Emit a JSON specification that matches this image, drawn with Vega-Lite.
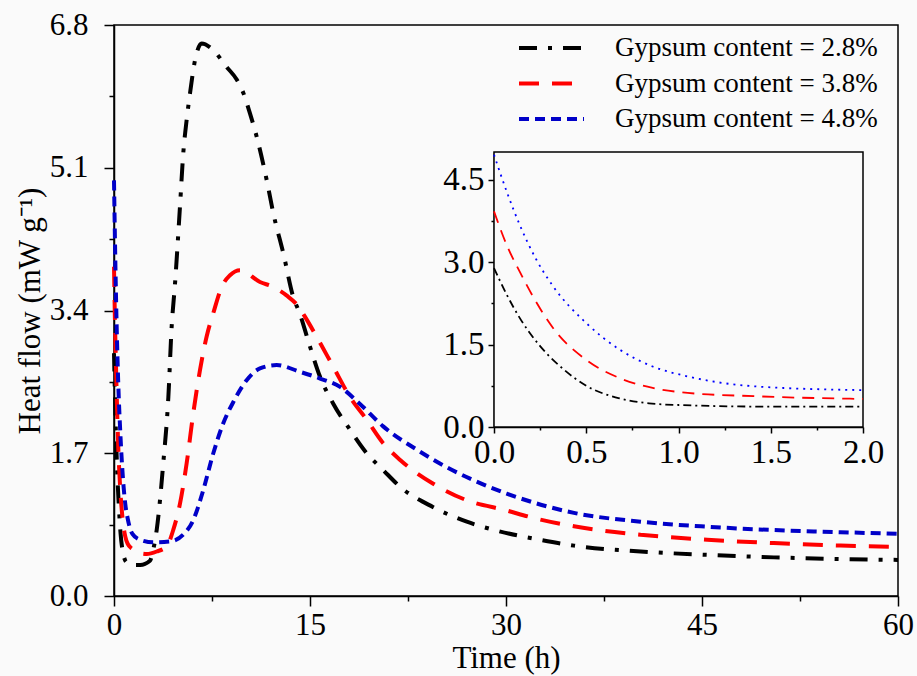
{
  "$schema": "https://vega.github.io/schema/vega-lite/v6.json",
  "width": 784,
  "height": 571,
  "autosize": {"type": "none"},
  "padding": {"left": 114, "top": 25, "right": 19, "bottom": 80},
  "background": "#fafafa",
  "view": {"stroke": "black", "strokeWidth": 1.5, "fill": "#fafafa"},
  "config": {
    "font": "Liberation Serif",
    "axis": {
      "grid": false,
      "domainColor": "black",
      "domainWidth": 1.5,
      "tickColor": "black",
      "tickWidth": 1.5,
      "labelColor": "black",
      "labelFont": "Liberation Serif",
      "titleFont": "Liberation Serif",
      "titleColor": "black",
      "titleFontWeight": "normal",
      "labelFlush": false,
      "labelOverlap": false
    },
    "legend": {
      "orient": "none",
      "legendX": 424,
      "legendY": 9.5,
      "padding": 0,
      "symbolType": "M-5,0H5",
      "symbolSize": 169,
      "symbolStrokeWidth": 4,
      "labelFont": "Liberation Serif",
      "labelFontSize": 27,
      "labelColor": "black",
      "labelOffset": 50,
      "rowPadding": 7.5,
      "labelLimit": 400
    }
  },
  "datasets": {
    "heat": [
      {"series": "Gypsum content = 2.8%", "t": 0, "v": 2.89},
      {"series": "Gypsum content = 2.8%", "t": 0.07, "v": 2.4},
      {"series": "Gypsum content = 2.8%", "t": 0.14, "v": 1.98},
      {"series": "Gypsum content = 2.8%", "t": 0.25, "v": 1.47},
      {"series": "Gypsum content = 2.8%", "t": 0.38, "v": 1.04},
      {"series": "Gypsum content = 2.8%", "t": 0.5, "v": 0.75},
      {"series": "Gypsum content = 2.8%", "t": 0.68, "v": 0.52},
      {"series": "Gypsum content = 2.8%", "t": 0.84, "v": 0.43},
      {"series": "Gypsum content = 2.8%", "t": 1.0, "v": 0.4},
      {"series": "Gypsum content = 2.8%", "t": 1.5, "v": 0.37},
      {"series": "Gypsum content = 2.8%", "t": 2.0, "v": 0.37},
      {"series": "Gypsum content = 2.8%", "t": 2.75, "v": 0.42},
      {"series": "Gypsum content = 2.8%", "t": 3.0, "v": 0.55},
      {"series": "Gypsum content = 2.8%", "t": 3.27, "v": 0.79},
      {"series": "Gypsum content = 2.8%", "t": 3.77, "v": 1.58},
      {"series": "Gypsum content = 2.8%", "t": 4.16, "v": 2.37},
      {"series": "Gypsum content = 2.8%", "t": 4.41, "v": 3.2},
      {"series": "Gypsum content = 2.8%", "t": 4.67, "v": 3.72},
      {"series": "Gypsum content = 2.8%", "t": 5.05, "v": 4.64},
      {"series": "Gypsum content = 2.8%", "t": 5.3, "v": 5.27},
      {"series": "Gypsum content = 2.8%", "t": 5.56, "v": 5.67},
      {"series": "Gypsum content = 2.8%", "t": 5.82, "v": 5.99},
      {"series": "Gypsum content = 2.8%", "t": 6.2, "v": 6.38},
      {"series": "Gypsum content = 2.8%", "t": 6.71, "v": 6.58},
      {"series": "Gypsum content = 2.8%", "t": 7.47, "v": 6.52},
      {"series": "Gypsum content = 2.8%", "t": 8.62, "v": 6.3},
      {"series": "Gypsum content = 2.8%", "t": 9.39, "v": 6.15},
      {"series": "Gypsum content = 2.8%", "t": 9.9, "v": 5.99},
      {"series": "Gypsum content = 2.8%", "t": 10.4, "v": 5.75},
      {"series": "Gypsum content = 2.8%", "t": 10.92, "v": 5.47},
      {"series": "Gypsum content = 2.8%", "t": 11.69, "v": 4.95},
      {"series": "Gypsum content = 2.8%", "t": 12.19, "v": 4.56},
      {"series": "Gypsum content = 2.8%", "t": 12.96, "v": 4.08},
      {"series": "Gypsum content = 2.8%", "t": 13.72, "v": 3.56},
      {"series": "Gypsum content = 2.8%", "t": 14.2, "v": 3.37},
      {"series": "Gypsum content = 2.8%", "t": 15.0, "v": 2.97},
      {"series": "Gypsum content = 2.8%", "t": 15.77, "v": 2.61},
      {"series": "Gypsum content = 2.8%", "t": 16.78, "v": 2.29},
      {"series": "Gypsum content = 2.8%", "t": 18.06, "v": 1.98},
      {"series": "Gypsum content = 2.8%", "t": 19.34, "v": 1.7},
      {"series": "Gypsum content = 2.8%", "t": 20.6, "v": 1.5},
      {"series": "Gypsum content = 2.8%", "t": 21.9, "v": 1.3},
      {"series": "Gypsum content = 2.8%", "t": 24.4, "v": 1.06},
      {"series": "Gypsum content = 2.8%", "t": 27.0, "v": 0.885},
      {"series": "Gypsum content = 2.8%", "t": 29.5, "v": 0.77},
      {"series": "Gypsum content = 2.8%", "t": 32.6, "v": 0.67},
      {"series": "Gypsum content = 2.8%", "t": 35.2, "v": 0.6},
      {"series": "Gypsum content = 2.8%", "t": 40.3, "v": 0.53},
      {"series": "Gypsum content = 2.8%", "t": 45.4, "v": 0.49},
      {"series": "Gypsum content = 2.8%", "t": 50.5, "v": 0.46},
      {"series": "Gypsum content = 2.8%", "t": 55.6, "v": 0.44},
      {"series": "Gypsum content = 2.8%", "t": 60, "v": 0.43},

      {"series": "Gypsum content = 3.8%", "t": 0, "v": 3.92},
      {"series": "Gypsum content = 3.8%", "t": 0.07, "v": 3.3},
      {"series": "Gypsum content = 3.8%", "t": 0.14, "v": 2.82},
      {"series": "Gypsum content = 3.8%", "t": 0.21, "v": 2.38},
      {"series": "Gypsum content = 3.8%", "t": 0.32, "v": 1.8},
      {"series": "Gypsum content = 3.8%", "t": 0.5, "v": 1.22},
      {"series": "Gypsum content = 3.8%", "t": 0.68, "v": 0.89},
      {"series": "Gypsum content = 3.8%", "t": 0.86, "v": 0.71},
      {"series": "Gypsum content = 3.8%", "t": 1.05, "v": 0.62},
      {"series": "Gypsum content = 3.8%", "t": 1.41, "v": 0.56},
      {"series": "Gypsum content = 3.8%", "t": 2.0, "v": 0.51},
      {"series": "Gypsum content = 3.8%", "t": 2.5, "v": 0.5},
      {"series": "Gypsum content = 3.8%", "t": 3.27, "v": 0.53},
      {"series": "Gypsum content = 3.8%", "t": 4.03, "v": 0.59},
      {"series": "Gypsum content = 3.8%", "t": 4.54, "v": 0.79},
      {"series": "Gypsum content = 3.8%", "t": 5.05, "v": 1.1},
      {"series": "Gypsum content = 3.8%", "t": 5.56, "v": 1.58},
      {"series": "Gypsum content = 3.8%", "t": 6.07, "v": 2.18},
      {"series": "Gypsum content = 3.8%", "t": 6.58, "v": 2.69},
      {"series": "Gypsum content = 3.8%", "t": 7.09, "v": 3.09},
      {"series": "Gypsum content = 3.8%", "t": 7.6, "v": 3.37},
      {"series": "Gypsum content = 3.8%", "t": 8.24, "v": 3.68},
      {"series": "Gypsum content = 3.8%", "t": 8.88, "v": 3.82},
      {"series": "Gypsum content = 3.8%", "t": 9.64, "v": 3.88},
      {"series": "Gypsum content = 3.8%", "t": 11.17, "v": 3.74},
      {"series": "Gypsum content = 3.8%", "t": 12.19, "v": 3.68},
      {"series": "Gypsum content = 3.8%", "t": 13.2, "v": 3.58},
      {"series": "Gypsum content = 3.8%", "t": 14.1, "v": 3.45},
      {"series": "Gypsum content = 3.8%", "t": 14.6, "v": 3.33},
      {"series": "Gypsum content = 3.8%", "t": 15.5, "v": 3.09},
      {"series": "Gypsum content = 3.8%", "t": 16.78, "v": 2.73},
      {"series": "Gypsum content = 3.8%", "t": 18.06, "v": 2.37},
      {"series": "Gypsum content = 3.8%", "t": 19.34, "v": 2.1},
      {"series": "Gypsum content = 3.8%", "t": 20.6, "v": 1.82},
      {"series": "Gypsum content = 3.8%", "t": 21.9, "v": 1.62},
      {"series": "Gypsum content = 3.8%", "t": 24.4, "v": 1.34},
      {"series": "Gypsum content = 3.8%", "t": 27.0, "v": 1.14},
      {"series": "Gypsum content = 3.8%", "t": 30.0, "v": 1.02},
      {"series": "Gypsum content = 3.8%", "t": 32.1, "v": 0.93},
      {"series": "Gypsum content = 3.8%", "t": 35.2, "v": 0.83},
      {"series": "Gypsum content = 3.8%", "t": 40.3, "v": 0.73},
      {"series": "Gypsum content = 3.8%", "t": 45.4, "v": 0.67},
      {"series": "Gypsum content = 3.8%", "t": 50.5, "v": 0.63},
      {"series": "Gypsum content = 3.8%", "t": 55.6, "v": 0.6},
      {"series": "Gypsum content = 3.8%", "t": 60, "v": 0.585},

      {"series": "Gypsum content = 4.8%", "t": 0, "v": 4.95},
      {"series": "Gypsum content = 4.8%", "t": 0.07, "v": 4.27},
      {"series": "Gypsum content = 4.8%", "t": 0.14, "v": 3.67},
      {"series": "Gypsum content = 4.8%", "t": 0.23, "v": 3.04},
      {"series": "Gypsum content = 4.8%", "t": 0.32, "v": 2.56},
      {"series": "Gypsum content = 4.8%", "t": 0.5, "v": 1.89},
      {"series": "Gypsum content = 4.8%", "t": 0.68, "v": 1.41},
      {"series": "Gypsum content = 4.8%", "t": 0.86, "v": 1.1},
      {"series": "Gypsum content = 4.8%", "t": 1.05, "v": 0.92},
      {"series": "Gypsum content = 4.8%", "t": 1.41, "v": 0.74},
      {"series": "Gypsum content = 4.8%", "t": 2.0, "v": 0.67},
      {"series": "Gypsum content = 4.8%", "t": 3.0, "v": 0.64},
      {"series": "Gypsum content = 4.8%", "t": 4.29, "v": 0.65},
      {"series": "Gypsum content = 4.8%", "t": 5.3, "v": 0.73},
      {"series": "Gypsum content = 4.8%", "t": 6.07, "v": 0.905},
      {"series": "Gypsum content = 4.8%", "t": 6.83, "v": 1.26},
      {"series": "Gypsum content = 4.8%", "t": 7.6, "v": 1.7},
      {"series": "Gypsum content = 4.8%", "t": 8.37, "v": 2.06},
      {"series": "Gypsum content = 4.8%", "t": 9.13, "v": 2.31},
      {"series": "Gypsum content = 4.8%", "t": 10.15, "v": 2.57},
      {"series": "Gypsum content = 4.8%", "t": 11.17, "v": 2.71},
      {"series": "Gypsum content = 4.8%", "t": 12.45, "v": 2.75},
      {"series": "Gypsum content = 4.8%", "t": 14.23, "v": 2.67},
      {"series": "Gypsum content = 4.8%", "t": 15.77, "v": 2.59},
      {"series": "Gypsum content = 4.8%", "t": 17.3, "v": 2.49},
      {"series": "Gypsum content = 4.8%", "t": 18.8, "v": 2.29},
      {"series": "Gypsum content = 4.8%", "t": 20.6, "v": 2.02},
      {"series": "Gypsum content = 4.8%", "t": 23.2, "v": 1.74},
      {"series": "Gypsum content = 4.8%", "t": 25.5, "v": 1.53},
      {"series": "Gypsum content = 4.8%", "t": 27.5, "v": 1.38},
      {"series": "Gypsum content = 4.8%", "t": 30.05, "v": 1.22},
      {"series": "Gypsum content = 4.8%", "t": 35.2, "v": 0.99},
      {"series": "Gypsum content = 4.8%", "t": 40.3, "v": 0.885},
      {"series": "Gypsum content = 4.8%", "t": 45.4, "v": 0.825},
      {"series": "Gypsum content = 4.8%", "t": 50.5, "v": 0.785},
      {"series": "Gypsum content = 4.8%", "t": 55.6, "v": 0.76},
      {"series": "Gypsum content = 4.8%", "t": 60, "v": 0.74}
    ],
    "insetFrame": [
      {"t0": 0, "t1": 2, "v0": 0, "v1": 5}
    ]
  },
  "layer": [
    {
      "data": {"name": "heat"},
      "mark": {"type": "line", "strokeWidth": 4, "interpolate": "monotone", "strokeCap": "butt"},
      "encoding": {
        "x": {
          "field": "t",
          "type": "quantitative",
          "scale": {"domain": [0, 60], "nice": false, "zero": false},
          "axis": {
            "orient": "bottom",
            "title": "Time (h)",
            "titleFontSize": 31,
            "titlePadding": 3,
            "values": [0, 7.5, 15, 22.5, 30, 37.5, 45, 52.5, 60],
            "labelExpr": "datum.value % 15 === 0 ? format(datum.value, 'd') : ''",
            "labelFontSize": 31,
            "labelPadding": 4,
            "tickSize": {"condition": {"test": "datum.value % 15 === 0", "value": 10}, "value": 5}
          }
        },
        "y": {
          "field": "v",
          "type": "quantitative",
          "scale": {"domain": [0, 6.8], "nice": false},
          "axis": {
            "orient": "left",
            "title": "Heat flow (mW g⁻¹)",
            "titleFontSize": 31,
            "titlePadding": 3,
            "values": [0, 0.85, 1.7, 2.55, 3.4, 4.25, 5.1, 5.95, 6.8],
            "labelExpr": "abs(datum.value / 1.7 - round(datum.value / 1.7)) < 0.01 ? format(datum.value, '.1f') : ''",
            "labelFontSize": 31,
            "labelPadding": 16,
            "tickSize": {"condition": {"test": "abs(datum.value / 1.7 - round(datum.value / 1.7)) < 0.01", "value": 10}, "value": 5}
          }
        },
        "color": {
          "field": "series",
          "type": "nominal",
          "scale": {
            "domain": ["Gypsum content = 2.8%", "Gypsum content = 3.8%", "Gypsum content = 4.8%"],
            "range": ["#000000", "#ff0000", "#0000c8"]
          },
          "legend": {"title": null}
        },
        "strokeDash": {
          "field": "series",
          "type": "nominal",
          "scale": {
            "domain": ["Gypsum content = 2.8%", "Gypsum content = 3.8%", "Gypsum content = 4.8%"],
            "range": [[18, 11, 4, 11], [20, 13], [10, 6]]
          },
          "legend": {"title": null}
        }
      }
    },
    {
      "layer": [
        {
          "data": {"name": "insetFrame"},
          "mark": {"type": "rect", "fill": "#fafafa", "stroke": "black", "strokeWidth": 1.5},
          "encoding": {
            "x": {
              "field": "t0",
              "type": "quantitative",
              "scale": {"domain": [0, 2], "range": [380, 749], "nice": false, "zero": false},
              "axis": {
                "orient": "bottom",
                "offset": -169,
                "title": null,
                "values": [0, 0.25, 0.5, 0.75, 1, 1.25, 1.5, 1.75, 2],
                "labelExpr": "datum.value % 0.5 === 0 ? format(datum.value, '.1f') : ''",
                "labelFontSize": 33,
                "labelPadding": 3,
                "tickSize": {"condition": {"test": "datum.value % 0.5 === 0", "value": 6}, "value": 3}
              }
            },
            "x2": {"field": "t1"},
            "y": {
              "field": "v0",
              "type": "quantitative",
              "scale": {"domain": [0, 5], "range": [402, 127], "nice": false},
              "axis": {
                "orient": "left",
                "offset": -380,
                "title": null,
                "values": [0, 0.75, 1.5, 2.25, 3, 3.75, 4.5],
                "labelExpr": "datum.value % 1.5 === 0 ? format(datum.value, '.1f') : ''",
                "labelFontSize": 33,
                "labelPadding": 4,
                "tickSize": {"condition": {"test": "datum.value % 1.5 === 0", "value": 6}, "value": 3}
              }
            },
            "y2": {"field": "v1"}
          }
        },
        {
          "data": {"name": "heat"},
          "transform": [{"filter": "datum.t <= 2"}],
          "mark": {"type": "line", "strokeWidth": 1.8, "interpolate": "monotone"},
          "encoding": {
            "x": {"field": "t", "type": "quantitative", "title": null},
            "y": {"field": "v", "type": "quantitative", "title": null},
            "color": {
              "field": "series",
              "type": "nominal",
              "scale": {
                "domain": ["Gypsum content = 2.8%", "Gypsum content = 3.8%", "Gypsum content = 4.8%"],
                "range": ["#000000", "#ff0000", "#0000ff"]
              },
              "legend": null
            },
            "strokeDash": {
              "field": "series",
              "type": "nominal",
              "scale": {
                "domain": ["Gypsum content = 2.8%", "Gypsum content = 3.8%", "Gypsum content = 4.8%"],
                "range": [[8, 4, 2, 4], [12, 8], [2, 5]]
              },
              "legend": null
            }
          }
        }
      ]
    }
  ],
  "resolve": {
    "scale": {"x": "independent", "y": "independent", "color": "independent", "strokeDash": "independent"},
    "axis": {"x": "independent", "y": "independent"}
  }
}
